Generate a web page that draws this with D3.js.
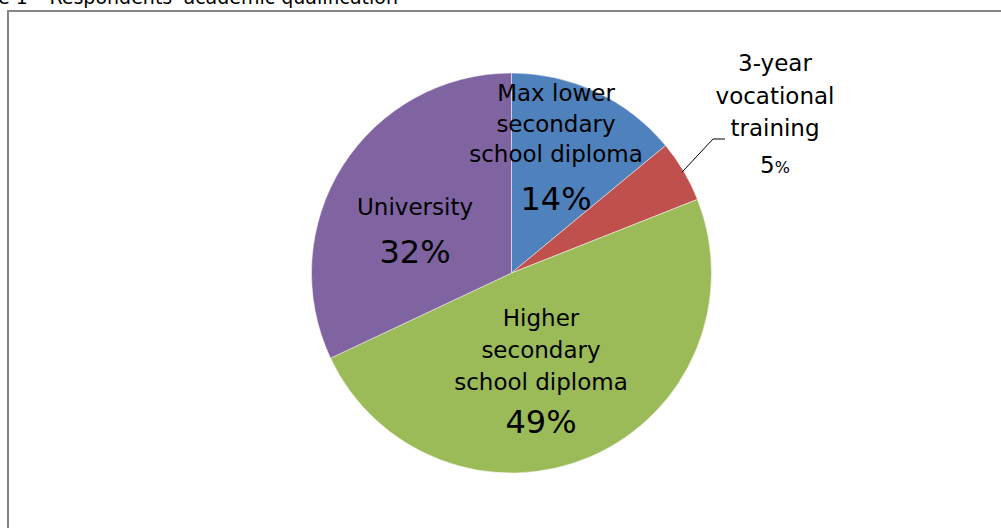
<!DOCTYPE html>
<html>
<head>
<meta charset="utf-8">
<script src="https://cdn.jsdelivr.net/npm/d3@7"></script>
<style>
  html, body { margin: 0; padding: 0; background: #fff; }
  svg { display: block; }
  text { font-family: "DejaVu Sans", Verdana, sans-serif; fill: #000; }
</style>
</head>
<body>
<svg id="chart" width="1001" height="528"></svg>
<script>
// ---- data ----
const title = "Figure 1 \u2013 Respondents' academic qualification";
const categories = ["Max lower secondary school diploma", "3-year vocational training", "Higher secondary school diploma", "University"];
const labelLines = [
  ["Max lower", "secondary", "school diploma"],
  ["3-year", "vocational", "training"],
  ["Higher", "secondary", "school diploma"],
  ["University"]
];
const values = [14, 5, 49, 32];
const colors = ["#4F81BD", "#C0504D", "#9BBB59", "#8064A2"];

// ---- layout (positions only) ----
const W = 1001, H = 528;
const cx = 511.5, cy = 273, R = 200;
// label block: center x, first baseline, line gap, pct baseline
const labelLayout = [
  { x: 556, y: 101, gap: 30.5, py: 210, pctSize: 32 },
  { x: 775, y: 71, gap: 32.5, py: 173, pctSize: 22, outside: true },
  { x: 541, y: 326, gap: 32, py: 433, pctSize: 32 },
  { x: 415, y: 215, gap: 31, py: 263, pctSize: 32 }
];

const svg = d3.select("#chart");

// title (clipped at top, as in the reference)
svg.append("text")
  .attr("x", 398).attr("y", 4)
  .attr("text-anchor", "end")
  .style("font-size", "19px")
  .text(title);

// chart area border
svg.append("rect")
  .attr("x", 8).attr("y", 11)
  .attr("width", 1200).attr("height", 700)
  .attr("fill", "none")
  .attr("stroke", "#868686")
  .attr("stroke-width", 2);

const pie = d3.pie().sort(null).value(d => d)(values);
const arc = d3.arc().innerRadius(0).outerRadius(R);

const g = svg.append("g").attr("transform", `translate(${cx},${cy})`);
g.selectAll("path.slice")
  .data(pie)
  .join("path")
  .attr("class", "slice")
  .attr("d", arc)
  .attr("fill", (d, i) => colors[i])
  .attr("stroke", "#ffffff")
  .attr("stroke-opacity", 0.6)
  .attr("stroke-width", 0.8);

// leader line for the small slice
const small = pie[1];
const mid = (small.startAngle + small.endAngle) / 2;
const edge = [cx + (R - 2) * Math.sin(mid), cy - (R - 2) * Math.cos(mid)];
const lay1 = labelLayout[1];
const elbow = [713, 139];
svg.append("path")
  .attr("d", d3.line()([edge, elbow, [elbow[0] + 12, elbow[1]]]))
  .attr("fill", "none")
  .attr("stroke", "#000")
  .attr("stroke-width", 1);

// labels
labelLines.forEach((lines, i) => {
  const L = labelLayout[i];
  const t = svg.append("g");
  lines.forEach((ln, j) => {
    t.append("text")
      .attr("x", L.x).attr("y", L.y + j * L.gap)
      .attr("text-anchor", "middle")
      .style("font-size", "23px")
      .text(ln);
  });
  const pct = t.append("text")
    .attr("x", L.x).attr("y", L.py)
    .attr("text-anchor", "middle");
  if (L.outside) {
    pct.append("tspan").style("font-size", "23px").text(values[i]);
    pct.append("tspan").style("font-size", "16px").text("%");
  } else {
    pct.style("font-size", L.pctSize + "px").text(values[i] + "%");
  }
});
</script>
</body>
</html>
